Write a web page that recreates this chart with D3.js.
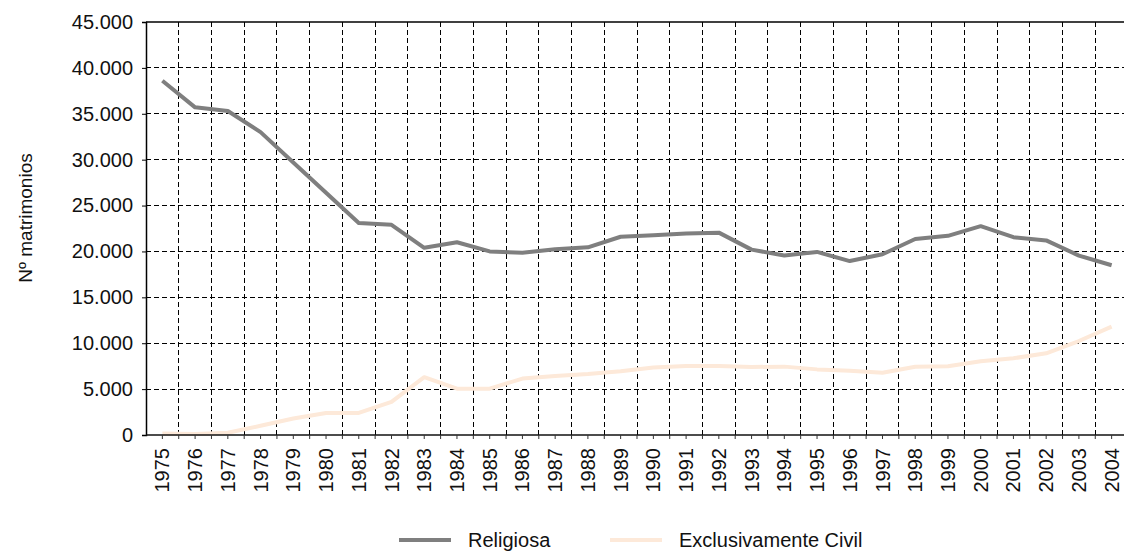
<!DOCTYPE html>
<html>
<head>
<meta charset="utf-8">
<script src="https://cdn.jsdelivr.net/npm/d3@7"></script>
<style>
  body { margin: 0; background: #fff; }
  svg { font-family: "Liberation Sans", Arial, sans-serif; }
  .grid line { stroke: #000; stroke-width: 1; stroke-dasharray: 5,3; shape-rendering: crispEdges; }
</style>
</head>
<body>
<script>
// years on the x axis
var years = ["1975","1976","1977","1978","1979","1980","1981","1982","1983","1984",
  "1985","1986","1987","1988","1989","1990","1991","1992","1993","1994",
  "1995","1996","1997","1998","1999","2000","2001","2002","2003","2004"];

// marriages, religious ceremony
var religiosa = [38600, 35700, 35300, 33000, 29700, 26400, 23100, 22900, 20400, 21000,
  20000, 19850, 20230, 20450, 21600, 21760, 21950, 22050, 20200, 19550,
  19950, 18950, 19700, 21350, 21700, 22750, 21550, 21200, 19550, 18500];

// marriages, civil only
var civil = [150, 100, 250, 1000, 1800, 2400, 2400, 3600, 6300, 5050,
  5050, 6150, 6430, 6650, 6950, 7350, 7520, 7520, 7410, 7450,
  7150, 7010, 6790, 7440, 7480, 8030, 8360, 8900, 10240, 11800];

var yTicks = [0, 5000, 10000, 15000, 20000, 25000, 30000, 35000, 40000, 45000];

var series = [
  { name: "Religiosa", values: religiosa, color: "#7f7f7f" },
  { name: "Exclusivamente Civil", values: civil, color: "#fde9d9" }
];

var width = 1124, height = 551;
var margin = { top: 22, left: 146, bottom: 116 };
var plotRight = 1128; // the frame runs off the right edge of the picture

var svg = d3.select("body").append("svg")
  .attr("width", width)
  .attr("height", height);

var x = d3.scaleBand()
  .domain(years)
  .range([margin.left, plotRight]);

var y = d3.scaleLinear()
  .domain([0, 45000])
  .range([height - margin.bottom, margin.top]);

var fmt = function(v) { return v === 0 ? "0" : d3.format(",")(v).replace(/,/g, "."); };

// horizontal grid
svg.append("g").attr("class", "grid")
  .selectAll("line").data(yTicks.filter(function(d) { return d > 0 && d < 45000; })).enter()
  .append("line")
  .attr("x1", margin.left).attr("x2", plotRight)
  .attr("y1", function(d) { return y(d); })
  .attr("y2", function(d) { return y(d); });

// vertical grid on the category boundaries
svg.append("g").attr("class", "grid")
  .selectAll("line").data(years.slice(1)).enter()
  .append("line")
  .attr("x1", function(d) { return x(d); })
  .attr("x2", function(d) { return x(d); })
  .attr("y1", y(45000)).attr("y2", y(0));

// top frame
svg.append("line")
  .attr("x1", margin.left).attr("x2", plotRight)
  .attr("y1", y(45000)).attr("y2", y(45000))
  .attr("stroke", "#000").attr("stroke-width", 1.5);

// lines
var line = d3.line()
  .x(function(d, i) { return x(years[i]) + x.bandwidth() / 2; })
  .y(function(d) { return y(d); });

series.slice().reverse().forEach(function(s) {
  svg.append("path")
    .datum(s.values)
    .attr("fill", "none")
    .attr("stroke", s.color)
    .attr("stroke-width", 4)
    .attr("stroke-linejoin", "round")
    .attr("d", line);
});

// y axis
var yAxis = d3.axisLeft(y).tickValues(yTicks).tickSize(4).tickPadding(9).tickFormat(fmt);
var gy = svg.append("g")
  .attr("transform", "translate(" + margin.left + ",0)")
  .call(yAxis);
gy.select(".domain").attr("stroke", "#000").attr("stroke-width", 1.5);
gy.selectAll(".tick text").attr("font-size", 20).attr("fill", "#111")
  .attr("font-family", "Liberation Sans, Arial, sans-serif");

// x axis: ticks at centres and at boundaries
var gx = svg.append("g").attr("transform", "translate(0," + y(0) + ")");
gx.append("line")
  .attr("x1", margin.left).attr("x2", plotRight)
  .attr("stroke", "#111").attr("stroke-width", 1.5);
gx.selectAll(".tc").data(years).enter().append("line")
  .attr("class", "tc")
  .attr("x1", function(d) { return x(d) + x.bandwidth() / 2; })
  .attr("x2", function(d) { return x(d) + x.bandwidth() / 2; })
  .attr("y1", 0).attr("y2", 4)
  .attr("stroke", "#333");
gx.selectAll(".tb").data(years.slice(1)).enter().append("line")
  .attr("class", "tb")
  .attr("x1", function(d) { return x(d); })
  .attr("x2", function(d) { return x(d); })
  .attr("y1", 0).attr("y2", 4)
  .attr("stroke", "#333");
gx.selectAll("text").data(years).enter().append("text")
  .attr("transform", function(d) { return "translate(" + (x(d) + x.bandwidth() / 2) + ",13) rotate(-90)"; })
  .attr("text-anchor", "end")
  .attr("dy", "0.35em")
  .attr("font-size", 20)
  .attr("fill", "#111")
  .text(function(d) { return d; });

// y title
svg.append("text")
  .attr("transform", "translate(32,218) rotate(-90)")
  .attr("text-anchor", "middle")
  .attr("font-size", 19)
  .attr("fill", "#111")
  .text("Nº matrimonios");

// legend
var legendX = [399, 610];
var legend = svg.selectAll(".legend").data(series).enter().append("g")
  .attr("class", "legend")
  .attr("transform", function(d, i) { return "translate(" + legendX[i] + ",540)"; });
legend.append("line")
  .attr("x1", 0).attr("x2", 52)
  .attr("stroke", function(d) { return d.color; })
  .attr("stroke-width", 4);
legend.append("text")
  .attr("x", 69).attr("y", 7)
  .attr("font-size", 20)
  .attr("fill", "#111")
  .text(function(d) { return d.name; });
</script>
</body>
</html>
